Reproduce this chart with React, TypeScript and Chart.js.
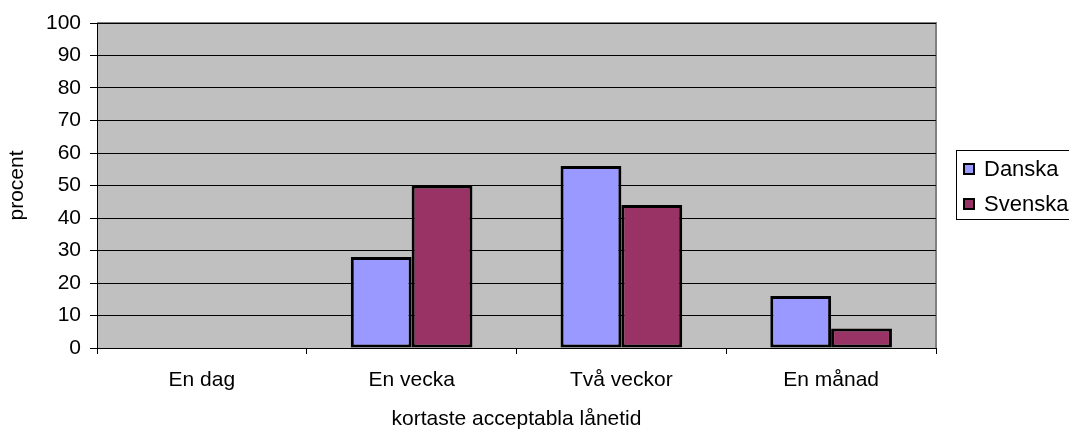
import React, { useEffect, useRef } from "react";
import { Chart, registerables } from "chart.js";

Chart.register(...registerables);

const categories = ["En dag", "En vecka", "Två veckor", "En månad"];
const danska = [0, 28, 56, 16];
const svenska = [0, 50, 44, 6];
const seriesNames = ["Danska", "Svenska"];
const seriesColors = ["#9999FF", "#993366"];
const yTitle = "procent";
const xTitle = "kortaste acceptabla lånetid";

const FONT = "'Liberation Sans', Arial, sans-serif";
const FS = 21;

const bgPlugin = {
  id: "plotBg",
  beforeDraw(chart: any) {
    const { ctx, chartArea } = chart;
    const { left, top, right, bottom } = chartArea;
    ctx.save();
    ctx.fillStyle = "#C0C0C0";
    ctx.fillRect(left, top, right - left, bottom - top);
    ctx.strokeStyle = "#808080";
    ctx.lineWidth = 2;
    ctx.beginPath();
    ctx.moveTo(left, top);
    ctx.lineTo(right, top);
    ctx.lineTo(right, bottom);
    ctx.stroke();
    ctx.restore();
  },
};

const legendPlugin = {
  id: "customLegend",
  afterDraw(chart: any) {
    const { ctx } = chart;
    ctx.save();
    ctx.fillStyle = "#FFFFFF";
    ctx.strokeStyle = "#000000";
    ctx.lineWidth = 1;
    ctx.fillRect(956.5, 150.5, 140, 69);
    ctx.strokeRect(956.5, 150.5, 140, 69);
    ctx.font = `22px ${FONT}`;
    ctx.textBaseline = "middle";
    const ys = [169, 204];
    seriesNames.forEach((name, i) => {
      ctx.fillStyle = seriesColors[i];
      ctx.fillRect(964, ys[i] - 5, 10, 10);
      ctx.strokeStyle = "#000";
      ctx.lineWidth = 2;
      ctx.strokeRect(964, ys[i] - 5, 10, 10);
      ctx.fillStyle = "#000";
      ctx.fillText(name, 984, ys[i] + 1);
    });
    ctx.restore();
  },
};

export default function App() {
  const ref = useRef<HTMLCanvasElement>(null);
  useEffect(() => {
    document.body.style.margin = "0";
    const chart = new Chart(ref.current!, {
      type: "bar",
      data: {
        labels: categories,
        datasets: [
          {
            label: seriesNames[0],
            data: danska,
            backgroundColor: seriesColors[0],
            borderColor: "#000",
            borderWidth: 3,
            borderSkipped: false,
          },
          {
            label: seriesNames[1],
            data: svenska,
            backgroundColor: seriesColors[1],
            borderColor: "#000",
            borderWidth: 3,
            borderSkipped: false,
          },
        ],
      },
      options: {
        animation: false,
        responsive: false,
        maintainAspectRatio: false,
        layout: { padding: { left: 0, top: 23, right: 133, bottom: 0 } },
        datasets: { bar: { barPercentage: 1, categoryPercentage: 0.58 } },
        plugins: { legend: { display: false }, tooltip: { enabled: false } },
        scales: {
          x: {
            offset: true,
            grid: {
              offset: true,
              drawOnChartArea: false,
              drawTicks: true,
              tickLength: 6,
              color: "#000",
            },
            border: { color: "#000", width: 1 },
            ticks: {
              color: "#000",
              font: { family: FONT, size: FS },
              padding: 14,
            },
            title: {
              display: true,
              text: xTitle,
              color: "#000",
              font: { family: FONT, size: FS },
              padding: { top: 0, bottom: 0 },
            },
            afterFit(scale: any) {
              scale.height = 84;
            },
          },
          y: {
            min: 0,
            max: 100,
            ticks: {
              stepSize: 10,
              color: "#000",
              font: { family: FONT, size: FS },
              padding: 9,
            },
            grid: { color: "#000", tickLength: 7, lineWidth: 1 },
            border: { color: "#000", width: 1 },
            title: {
              display: true,
              text: yTitle,
              color: "#000",
              font: { family: FONT, size: FS },
              padding: { top: 5, bottom: 0 },
            },
            afterFit(scale: any) {
              scale.width = 97;
            },
          },
        },
      },
      plugins: [bgPlugin, legendPlugin],
    });
    return () => chart.destroy();
  }, []);
  return (
    <div style={{ position: "absolute", left: 0, top: 0 }}>
      <canvas ref={ref} width={1069} height={432} style={{ width: 1069, height: 432 }} />
    </div>
  );
}
